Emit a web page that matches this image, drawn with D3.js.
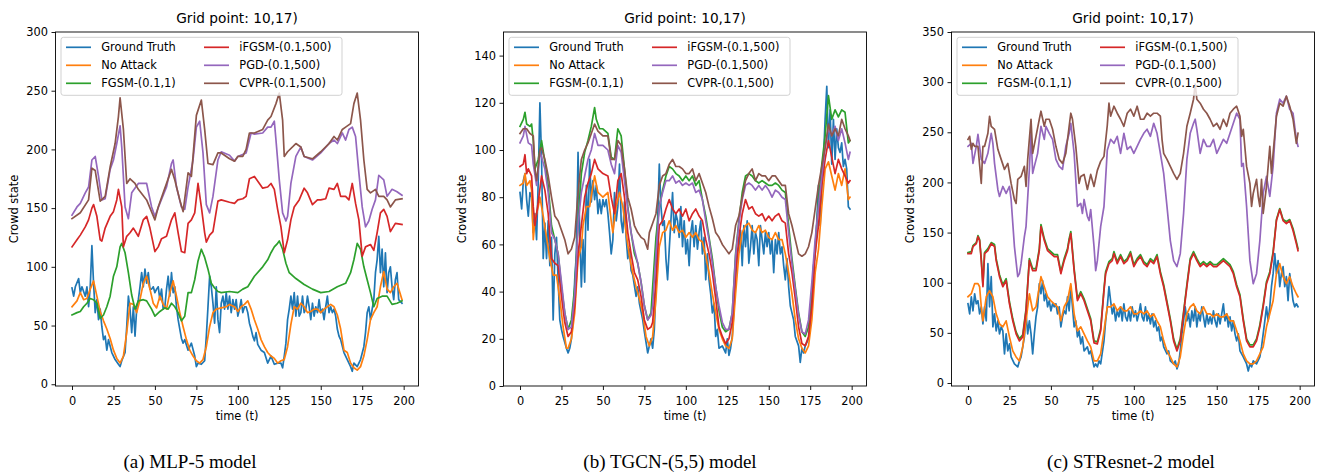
<!DOCTYPE html>
<html>
<head>
<meta charset="utf-8">
<script src="https://cdn.jsdelivr.net/npm/d3@7"></script>
<style>
  html, body { margin: 0; padding: 0; background: #ffffff; }
  svg { display: block; }
</style>
</head>
<body>
<script>
// ---------------- DATA ----------------
const seriesNames = ["Ground Truth", "No Attack", "FGSM-(0.1,1)", "iFGSM-(0.1,500)", "PGD-(0.1,500)", "CVPR-(0.1,500)"];
const seriesColors = ["#1f77b4", "#ff7f0e", "#2ca02c", "#d62728", "#9467bd", "#8c564b"];
const xTickValues = [0, 25, 50, 75, 100, 125, 150, 175, 200];
const yTicksMLP = [0, 50, 100, 150, 200, 250, 300];
const yTicksTGCN = [0, 20, 40, 60, 80, 100, 120, 140];
const yTicksSTR = [0, 50, 100, 150, 200, 250, 300, 350];
const panelTitle = "Grid point: 10,17)";
const captions = ["(a) MLP-5 model", "(b) TGCN-(5,5) model", "(c) STResnet-2 model"];

// (a) MLP-5 : [time, crowd state]
const mlpGroundTruth = [[0,82],[1,75],[2,83],[4,90],[5,78],[6,83],[8,75],[9,83],[10,66],[11,83],[12,118],[13,86],[14,61],[15,72],[16,55],[17,64],[18,49],[19,38],[20,41],[21,29],[22,38],[24,27],[26,21],[28,17],[29,15],[30,20],[32,27],[33,49],[34,75],[35,64],[36,44],[37,66],[38,41],[39,64],[40,72],[41,83],[42,95],[43,83],[44,98],[45,86],[46,95],[47,81],[48,81],[49,83],[50,78],[51,81],[52,83],[53,72],[54,81],[55,64],[56,66],[57,81],[58,92],[59,75],[60,95],[61,78],[62,83],[63,66],[64,55],[65,47],[66,39],[67,35],[68,38],[70,29],[72,35],[74,24],[75,15],[76,18],[78,17],[80,20],[81,41],[82,66],[83,92],[84,83],[85,69],[86,52],[87,83],[88,55],[89,44],[90,69],[91,75],[92,64],[93,78],[94,64],[95,75],[96,61],[97,72],[98,64],[99,72],[100,58],[101,64],[102,72],[103,61],[104,66],[105,66],[106,61],[107,52],[108,47],[109,41],[110,37],[111,44],[112,34],[114,29],[116,27],[118,18],[120,24],[122,17],[124,18],[126,18],[127,14],[128,24],[129,35],[130,55],[131,64],[132,75],[133,64],[134,78],[135,58],[136,75],[137,58],[138,61],[139,75],[140,61],[141,64],[142,75],[143,66],[144,55],[145,69],[146,58],[147,66],[148,61],[149,72],[150,61],[151,64],[152,55],[153,66],[154,75],[155,61],[156,66],[157,61],[158,64],[159,58],[160,47],[161,41],[162,38],[164,27],[166,21],[168,15],[169,11],[170,18],[172,15],[174,21],[176,32],[177,44],[178,61],[179,66],[180,55],[181,64],[182,72],[183,95],[184,106],[185,126],[186,95],[187,115],[188,83],[189,112],[190,78],[191,95],[192,100],[193,83],[194,72],[195,89],[196,95],[197,72],[199,69]];
const mlpNoAttack = [[0,66],[3,71],[5,78],[7,72],[9,73],[11,81],[13,88],[15,75],[17,62],[19,54],[21,47],[23,39],[25,29],[27,22],[29,18],[31,24],[33,44],[35,69],[37,68],[39,61],[41,72],[43,86],[45,92],[47,81],[49,69],[51,65],[53,75],[55,68],[57,64],[59,78],[61,88],[63,75],[65,61],[67,49],[69,38],[71,29],[73,24],[75,20],[77,18],[79,21],[81,32],[83,49],[85,61],[87,64],[90,65],[93,66],[95,68],[98,66],[100,62],[102,66],[104,68],[106,71],[108,64],[110,55],[112,47],[114,38],[116,32],[118,27],[120,24],[122,22],[124,18],[126,20],[128,21],[130,32],[132,51],[134,66],[136,64],[138,69],[140,66],[142,61],[144,62],[146,64],[148,64],[150,61],[152,64],[154,66],[156,68],[158,66],[160,59],[162,47],[164,29],[166,27],[168,18],[170,14],[172,12],[174,15],[176,24],[178,38],[180,55],[182,61],[184,66],[186,83],[188,96],[190,81],[192,78],[194,83],[196,86],[199,72]];
const mlpFGSM = [[0,59],[3,61],[5,62],[7,66],[9,69],[11,73],[13,72],[15,69],[17,56],[19,59],[21,66],[23,75],[25,92],[27,100],[29,117],[30,120],[32,112],[34,95],[36,76],[38,64],[40,71],[43,72],[45,71],[48,64],[50,58],[53,62],[56,65],[58,64],[60,69],[62,66],[64,61],[66,54],[68,58],[70,78],[72,78],[74,89],[76,105],[78,115],[80,108],[82,98],[84,86],[86,82],[88,79],[90,78],[95,79],[100,78],[103,81],[106,83],[110,92],[115,100],[118,106],[120,112],[122,117],[124,120],[125,122],[127,115],[129,103],[131,95],[135,90],[140,85],[145,81],[150,78],[155,79],[160,83],[165,86],[168,95],[170,106],[172,120],[174,115],[176,100],[178,89],[180,78],[182,66],[184,73],[187,75],[190,75],[193,68],[196,69],[199,71]];
const mlpIFGSM = [[0,117],[3,123],[5,127],[8,134],[10,140],[12,150],[13,153],[15,143],[17,123],[18,122],[20,133],[23,143],[25,147],[27,157],[28,166],[30,151],[31,117],[33,126],[35,129],[37,133],[40,126],[43,140],[45,143],[47,133],[50,113],[52,117],[54,124],[57,126],[60,140],[62,146],[64,129],[66,113],[68,112],[70,137],[72,140],[74,146],[76,171],[78,151],[80,129],[81,121],[83,127],[85,130],[88,156],[90,157],[95,155],[98,154],[100,157],[103,158],[105,160],[107,175],[110,177],[113,171],[115,167],[118,168],[120,171],[122,166],[124,149],[126,134],[128,112],[130,123],[132,140],[134,151],[137,157],[140,167],[142,163],[145,153],[148,157],[150,157],[153,158],[155,167],[158,166],[160,171],[162,160],[165,160],[167,157],[169,171],[171,154],[173,140],[175,109],[177,117],[180,119],[182,114],[184,129],[186,146],[188,149],[190,143],[192,130],[195,137],[199,136]];
const mlpPGD = [[0,144],[3,151],[5,154],[8,163],[10,168],[12,191],[14,194],[16,177],[18,157],[20,158],[23,183],[25,191],[27,205],[29,220],[30,202],[32,151],[34,141],[36,163],[40,171],[45,171],[48,151],[50,143],[53,154],[57,168],[60,188],[61,191],[63,168],[66,151],[68,149],[70,168],[73,191],[75,219],[77,224],[79,197],[81,153],[83,146],[85,160],[88,191],[90,198],[95,195],[98,190],[100,194],[105,197],[108,214],[110,213],[115,214],[118,219],[120,219],[122,224],[123,208],[125,174],[127,146],[129,139],[130,143],[132,171],[135,194],[138,202],[140,194],[145,191],[150,197],[155,205],[158,208],[160,205],[163,214],[165,208],[167,217],[169,219],[171,211],[173,180],[175,151],[177,134],[179,139],[181,149],[183,157],[185,178],[188,174],[190,160],[193,166],[196,164],[199,161]];
const mlpCVPR = [[0,141],[5,146],[10,157],[12,184],[14,182],[17,156],[20,160],[23,185],[26,205],[28,228],[29,244],[31,217],[33,171],[35,175],[38,171],[40,166],[45,157],[50,140],[52,151],[55,163],[60,183],[62,174],[65,157],[67,147],[70,180],[72,177],[75,229],[78,242],[80,217],[82,188],[85,187],[88,197],[90,197],[95,192],[98,190],[100,194],[103,194],[105,200],[107,214],[110,214],[115,217],[118,225],[120,228],[123,239],[125,248],[127,225],[128,194],[130,198],[135,205],[138,202],[140,194],[145,192],[150,198],[155,205],[158,211],[160,208],[163,217],[165,219],[168,222],[170,239],[172,248],[174,225],[176,191],[178,166],[180,163],[183,166],[185,160],[188,160],[190,157],[192,151],[195,157],[199,158]];

// (b) TGCN-(5,5)
const tgcnGroundTruth = [[0,82],[1,75],[2,87],[3,90],[4,79],[5,72],[6,82],[7,80],[8,65],[9,73],[10,62],[11,87],[12,120],[13,96],[14,54],[15,69],[16,54],[17,70],[18,51],[19,63],[20,28],[21,56],[22,63],[23,45],[24,28],[25,24],[26,21],[28,16],[29,14],[30,16],[31,20],[32,28],[33,45],[34,56],[35,99],[36,65],[37,42],[38,62],[39,44],[40,85],[41,66],[42,96],[43,78],[44,87],[45,79],[46,85],[47,73],[48,79],[49,73],[50,79],[51,76],[52,79],[53,73],[54,65],[55,56],[56,62],[57,82],[58,70],[59,76],[60,94],[61,70],[62,65],[63,78],[64,63],[65,54],[66,58],[67,49],[68,47],[70,38],[71,42],[72,35],[74,28],[75,23],[77,14],[78,17],[79,20],[80,16],[81,24],[82,42],[83,70],[84,94],[85,76],[86,68],[87,70],[88,54],[89,45],[90,58],[91,70],[92,82],[93,65],[94,73],[95,70],[96,63],[97,76],[98,59],[99,70],[100,56],[101,62],[102,51],[103,65],[104,70],[105,59],[106,68],[107,58],[108,65],[109,70],[110,56],[111,63],[112,45],[113,56],[114,45],[115,39],[116,31],[117,35],[118,21],[119,24],[120,16],[122,17],[124,14],[125,20],[126,13],[127,16],[128,21],[129,32],[130,45],[131,56],[132,59],[133,66],[134,51],[135,68],[136,59],[137,70],[138,52],[139,59],[140,68],[141,56],[142,65],[143,62],[144,51],[145,68],[146,62],[147,56],[148,65],[149,59],[150,65],[151,56],[152,62],[153,48],[154,62],[155,56],[156,65],[157,56],[158,59],[159,51],[160,45],[161,54],[162,42],[163,34],[164,31],[165,28],[166,21],[168,17],[169,10],[170,16],[171,14],[172,17],[174,20],[176,34],[177,51],[178,56],[179,70],[180,85],[181,68],[182,85],[183,96],[184,113],[185,127],[186,101],[187,117],[188,94],[189,113],[190,96],[191,109],[192,101],[193,99],[194,103],[195,93],[196,96],[197,92],[198,76],[199,75]];
const tgcnNoAttack = [[0,85],[2,86],[3,90],[4,85],[6,87],[7,83],[8,62],[9,70],[11,76],[12,80],[14,72],[16,63],[18,54],[20,47],[22,47],[24,37],[26,25],[28,16],[29,16],[31,20],[33,31],[35,54],[37,59],[38,68],[40,76],[42,76],[44,85],[45,89],[47,82],[50,80],[53,82],[55,70],[56,65],[58,76],[60,82],[62,76],[64,65],[66,55],[68,48],[70,42],[72,37],[74,31],[76,21],[78,17],[80,21],[82,37],[84,59],[86,65],[88,66],[90,70],[92,66],[94,68],[96,65],[98,66],[100,63],[102,65],[104,63],[106,65],[108,62],[110,61],[112,55],[114,48],[116,39],[118,31],[120,24],[122,20],[124,17],[126,16],[128,20],[130,39],[132,56],[134,65],[136,68],[138,69],[140,66],[142,65],[144,68],[146,65],[148,66],[150,63],[152,62],[154,65],[156,62],[158,62],[160,56],[162,48],[164,39],[166,28],[168,20],[170,16],[172,14],[174,17],[176,28],[178,48],[180,58],[182,76],[184,92],[186,95],[188,89],[190,83],[192,90],[194,85],[196,92],[198,79],[199,80]];
const tgcnFGSM = [[0,110],[2,113],[3,116],[4,111],[6,110],[7,111],[8,104],[9,92],[11,96],[13,104],[15,95],[17,85],[19,68],[21,62],[23,56],[25,42],[27,31],[29,24],[31,28],[33,42],[35,68],[37,90],[39,99],[41,104],[43,110],[45,118],[46,113],[48,109],[50,109],[53,107],[55,97],[57,96],[59,109],[61,106],[63,92],[65,76],[67,65],[69,56],[71,52],[73,44],[75,34],[77,28],[79,31],[80,42],[82,63],[84,76],[86,83],[88,89],[90,93],[92,92],[94,90],[96,89],[98,87],[100,89],[102,87],[104,89],[106,85],[108,87],[110,79],[112,72],[114,63],[116,54],[118,42],[120,32],[122,25],[124,23],[126,24],[128,31],[130,56],[132,70],[134,82],[136,89],[138,90],[140,89],[142,87],[144,86],[146,87],[148,86],[150,85],[152,85],[154,86],[156,85],[158,83],[160,82],[162,68],[164,54],[166,42],[168,31],[170,23],[172,21],[174,25],[176,39],[178,59],[180,78],[182,94],[184,106],[186,123],[188,113],[190,117],[192,114],[194,117],[196,116],[198,103],[199,104]];
const tgcnIFGSM = [[0,93],[2,94],[3,98],[4,90],[5,92],[7,89],[8,76],[9,68],[11,78],[13,89],[15,83],[17,73],[19,54],[21,52],[23,51],[25,38],[27,27],[29,21],[31,23],[33,34],[35,56],[37,68],[39,80],[41,86],[43,90],[45,96],[47,92],[50,90],[53,89],[55,80],[57,73],[59,87],[61,90],[63,80],[65,65],[67,56],[69,48],[71,45],[73,38],[75,28],[77,24],[79,25],[80,27],[82,45],[84,68],[86,70],[88,75],[90,79],[92,75],[94,73],[96,75],[98,72],[100,75],[102,70],[104,73],[106,75],[108,72],[110,70],[112,62],[114,56],[116,48],[118,37],[120,25],[122,21],[124,18],[126,20],[128,27],[130,48],[132,63],[134,73],[136,79],[138,75],[140,76],[142,73],[144,72],[146,73],[148,70],[150,72],[152,70],[154,72],[156,73],[158,70],[160,69],[162,56],[164,48],[166,37],[168,25],[170,18],[172,17],[174,21],[176,34],[178,56],[180,68],[182,85],[184,96],[186,104],[188,97],[190,90],[192,96],[194,92],[196,89],[198,86],[199,87]];
const tgcnPGD = [[0,103],[2,106],[3,110],[5,103],[7,102],[8,94],[10,85],[12,99],[13,97],[15,92],[17,82],[19,65],[21,62],[23,56],[25,44],[27,31],[29,24],[31,25],[33,39],[35,68],[37,82],[39,89],[41,96],[43,100],[45,107],[47,102],[50,102],[53,100],[55,94],[57,90],[59,102],[61,99],[63,87],[65,75],[67,65],[69,58],[71,52],[73,44],[75,34],[77,28],[79,30],[80,34],[82,56],[84,76],[86,82],[88,87],[90,87],[92,89],[94,86],[96,87],[98,85],[100,86],[102,85],[104,86],[106,82],[108,83],[110,79],[112,70],[114,62],[116,52],[118,42],[120,34],[122,27],[124,24],[126,24],[128,31],[130,55],[132,69],[134,79],[136,85],[138,86],[140,85],[142,83],[144,85],[146,83],[148,85],[150,83],[152,80],[154,83],[156,82],[158,80],[160,79],[162,65],[164,52],[166,41],[168,30],[170,23],[172,22],[174,28],[176,44],[178,62],[180,76],[182,89],[184,101],[186,109],[188,106],[190,110],[192,104],[194,109],[196,103],[198,96],[199,99]];
const tgcnCVPR = [[0,107],[2,109],[4,109],[6,107],[8,106],[9,92],[10,87],[11,93],[12,100],[13,101],[15,96],[17,89],[19,80],[21,72],[23,70],[25,66],[27,62],[29,56],[31,58],[33,63],[35,82],[37,96],[39,100],[41,103],[43,107],[45,111],[47,108],[50,106],[53,106],[55,96],[57,96],[59,104],[61,102],[63,92],[65,80],[67,75],[69,68],[71,65],[73,63],[75,62],[77,58],[78,65],[80,69],[82,73],[84,85],[86,89],[88,90],[90,94],[92,96],[94,93],[96,93],[98,92],[100,90],[102,90],[104,92],[106,87],[108,90],[110,86],[112,82],[114,76],[116,71],[118,65],[120,63],[122,60],[124,58],[126,56],[128,58],[130,68],[132,72],[134,80],[136,87],[138,90],[140,92],[142,87],[144,90],[146,89],[148,89],[150,87],[152,89],[154,89],[156,87],[158,85],[160,85],[162,73],[164,68],[166,62],[168,56],[170,55],[172,56],[174,59],[176,65],[178,75],[180,85],[182,93],[184,101],[186,111],[188,106],[190,109],[192,106],[194,113],[196,109],[198,106],[199,104]];

// (c) STResnet-2
const strGroundTruth = [[0,79],[1,69],[2,86],[3,72],[4,89],[5,79],[6,82],[7,69],[8,76],[9,59],[10,76],[11,62],[12,119],[13,76],[14,106],[15,56],[16,69],[17,52],[18,62],[19,49],[20,56],[21,52],[22,29],[23,49],[24,32],[25,39],[26,26],[28,19],[30,16],[31,22],[32,26],[33,36],[34,46],[35,69],[36,49],[37,62],[38,49],[39,29],[40,49],[41,66],[42,76],[43,99],[44,89],[45,102],[46,82],[47,89],[48,76],[49,82],[50,72],[51,79],[52,76],[53,79],[54,69],[55,76],[56,56],[57,66],[58,72],[59,69],[60,86],[61,72],[62,96],[63,76],[64,56],[65,62],[66,46],[67,52],[68,39],[69,46],[70,32],[72,36],[73,29],[74,32],[76,16],[77,19],[78,16],[79,22],[80,19],[82,42],[83,62],[84,76],[85,96],[86,82],[87,69],[88,76],[89,62],[90,72],[91,66],[92,76],[93,62],[94,79],[95,66],[96,62],[97,72],[98,62],[99,76],[100,66],[101,72],[102,62],[103,69],[104,79],[105,66],[106,62],[107,76],[108,62],[109,69],[110,59],[111,69],[112,56],[113,62],[114,52],[115,56],[116,42],[117,46],[118,36],[120,29],[121,32],[122,22],[124,19],[125,22],[126,14],[127,19],[128,32],[129,49],[130,62],[131,76],[132,62],[133,69],[134,56],[135,72],[136,62],[137,76],[138,56],[139,69],[140,62],[141,76],[142,66],[143,56],[144,69],[145,59],[146,66],[147,59],[148,72],[149,62],[150,56],[151,69],[152,59],[153,69],[154,79],[155,62],[156,69],[157,56],[158,66],[159,52],[160,62],[161,49],[162,42],[163,49],[164,32],[166,26],[168,19],[169,12],[170,19],[171,16],[172,22],[174,19],[176,26],[177,36],[178,49],[179,62],[180,76],[181,62],[182,76],[183,96],[184,109],[185,129],[186,109],[187,122],[188,96],[189,109],[190,116],[191,96],[192,106],[193,82],[194,109],[195,96],[196,82],[197,76],[198,79],[199,76]];
const strNoAttack = [[0,86],[2,89],[4,99],[6,99],[7,96],[8,76],[9,62],[11,86],[13,92],[15,86],[17,69],[19,59],[21,56],[23,62],[25,46],[27,32],[29,26],[31,22],[33,36],[35,62],[37,89],[39,72],[41,76],[43,96],[44,106],[46,96],[48,86],[50,82],[52,79],[54,76],[56,62],[58,76],[60,82],[62,99],[64,69],[66,52],[68,56],[70,49],[72,42],[74,36],[76,22],[78,22],[80,29],[82,52],[84,76],[86,76],[88,79],[90,72],[92,76],[94,72],[96,72],[98,76],[100,69],[102,69],[104,72],[106,69],[108,72],[110,66],[112,69],[114,62],[116,56],[118,42],[120,32],[122,26],[124,19],[126,16],[128,26],[130,49],[132,69],[134,76],[136,79],[138,72],[140,69],[142,76],[144,69],[146,69],[148,66],[150,69],[152,66],[154,66],[156,69],[158,62],[160,62],[162,52],[164,42],[166,29],[168,22],[170,19],[172,19],[174,22],[176,29],[178,36],[180,56],[182,69],[184,82],[186,109],[188,119],[190,106],[192,99],[194,106],[196,96],[198,89],[199,86]];
const strFGSM = [[0,130],[2,131],[3,137],[5,140],[6,147],[7,143],[8,124],[9,98],[10,130],[12,134],[14,140],[16,138],[17,124],[19,108],[21,98],[23,104],[25,81],[27,64],[29,51],[31,44],[33,48],[35,74],[37,124],[39,114],[41,114],[43,134],[44,158],[46,144],[48,134],[50,131],[52,128],[54,128],[56,111],[58,124],[60,134],[61,144],[62,151],[64,114],[66,84],[68,91],[70,84],[72,74],[74,64],[76,42],[78,41],[80,54],[82,94],[83,111],[85,121],[87,124],[88,131],[90,121],[92,128],[94,121],[96,124],[98,131],[100,118],[102,124],[104,128],[106,121],[108,118],[110,124],[112,121],[114,128],[116,111],[118,98],[120,81],[122,64],[124,44],[126,34],[128,44],[130,71],[132,98],[134,124],[136,131],[138,124],[140,118],[142,121],[144,118],[146,121],[148,118],[150,118],[152,121],[154,124],[156,121],[158,118],[160,111],[162,98],[164,88],[166,64],[168,44],[170,38],[172,38],[174,44],[176,58],[178,78],[180,101],[182,111],[184,131],[186,163],[188,174],[190,163],[192,161],[194,163],[196,154],[198,141],[199,134]];
const strIFGSM = [[0,129],[2,129],[3,136],[5,139],[6,146],[7,142],[8,122],[9,96],[10,129],[12,132],[14,139],[16,136],[17,122],[19,106],[21,96],[23,102],[25,79],[27,62],[29,49],[31,42],[33,46],[35,72],[37,122],[39,112],[41,112],[43,132],[44,156],[46,142],[48,132],[50,129],[52,126],[54,126],[56,109],[58,122],[60,132],[61,142],[62,149],[64,112],[66,82],[68,89],[70,82],[72,72],[74,62],[76,40],[78,39],[80,52],[82,92],[83,109],[85,119],[87,122],[88,129],[90,119],[92,126],[94,119],[96,122],[98,129],[100,116],[102,122],[104,126],[106,119],[108,116],[110,122],[112,119],[114,126],[116,109],[118,96],[120,79],[122,62],[124,42],[126,32],[128,42],[130,69],[132,96],[134,122],[136,129],[138,122],[140,116],[142,119],[144,116],[146,119],[148,116],[150,116],[152,119],[154,122],[156,119],[158,116],[160,109],[162,96],[164,86],[166,62],[168,42],[170,36],[172,36],[174,42],[176,56],[178,76],[180,99],[182,109],[184,129],[186,162],[188,173],[190,162],[192,159],[194,162],[196,152],[198,139],[199,132]];
const strPGD = [[0,236],[2,239],[3,219],[5,236],[6,248],[8,223],[10,219],[12,229],[14,249],[15,239],[16,219],[18,193],[19,186],[21,196],[23,189],[25,196],[26,183],[28,136],[30,106],[31,109],[32,119],[34,146],[35,156],[37,213],[38,249],[39,209],[40,216],[42,229],[43,243],[44,256],[46,243],[47,256],[49,249],[51,243],[53,223],[55,216],[57,213],[59,236],[61,249],[62,259],[64,229],[66,176],[68,179],[69,169],[70,183],[72,166],[73,162],[74,173],[76,136],[77,112],[78,122],[80,156],[82,176],[84,232],[86,243],[88,239],[90,246],[92,229],[94,249],[96,233],[98,236],[100,229],[102,236],[104,243],[106,249],[108,253],[110,246],[112,259],[114,249],[116,229],[118,209],[120,176],[122,142],[124,122],[126,116],[128,129],[130,169],[131,196],[132,223],[134,249],[136,259],[137,263],[138,253],[140,229],[142,243],[144,236],[146,236],[148,243],[150,229],[152,236],[154,243],[156,239],[158,249],[160,259],[162,269],[164,263],[165,216],[166,219],[168,176],[170,122],[172,99],[174,109],[176,142],[178,189],[180,206],[182,186],[184,216],[186,269],[188,283],[190,279],[192,286],[194,273],[196,269],[198,243],[199,236]];
const strCVPR = [[0,243],[1,246],[2,233],[3,239],[4,236],[6,236],[8,199],[9,236],[10,236],[12,249],[13,266],[14,256],[16,253],[18,233],[20,223],[22,213],[24,219],[26,199],[28,183],[29,179],[30,203],[32,206],[34,216],[35,196],[36,223],[38,263],[39,229],[41,246],[43,263],[44,271],[46,256],[47,263],[49,263],[51,253],[53,236],[55,223],[57,219],[59,229],[61,256],[62,269],[63,263],[65,236],[67,199],[68,206],[70,208],[72,193],[74,208],[76,196],[78,212],[80,221],[82,226],[84,257],[85,279],[86,266],[88,276],[90,269],[92,263],[94,256],[96,269],[98,273],[100,266],[102,276],[104,263],[106,263],[108,269],[110,266],[112,269],[114,269],[116,266],[117,243],[118,229],[120,223],[122,216],[124,209],[126,203],[128,209],[130,229],[132,256],[134,269],[136,283],[137,298],[138,283],[140,279],[142,273],[144,269],[146,263],[148,256],[150,259],[152,253],[154,263],[156,256],[158,269],[160,273],[162,276],[164,266],[165,246],[166,253],[168,216],[170,199],[171,176],[172,189],[174,203],[175,186],[176,176],[177,203],[178,169],[180,196],[182,236],[183,209],[184,229],[186,266],[188,279],[190,276],[192,286],[194,276],[196,263],[198,239],[199,249]];

// ---------------- LAYOUT ----------------
const W = 1317, H = 476;
const plotTop = 32, plotBottom = 386, plotWidth = 363;
const tickFont = "11.4px";
const fontFamily = "'DejaVu Sans', sans-serif";

const panels = [
  { left: 55.5,  yDomain: [-1.5, 300], yTicks: yTicksMLP,  series: [mlpGroundTruth, mlpNoAttack, mlpFGSM, mlpIFGSM, mlpPGD, mlpCVPR], caption: captions[0], capX: 190 },
  { left: 503.5, yDomain: [0, 150],    yTicks: yTicksTGCN, series: [tgcnGroundTruth, tgcnNoAttack, tgcnFGSM, tgcnIFGSM, tgcnPGD, tgcnCVPR], caption: captions[1], capX: 670 },
  { left: 951.5, yDomain: [-3, 350],   yTicks: yTicksSTR,  series: [strGroundTruth, strNoAttack, strFGSM, strIFGSM, strPGD, strCVPR], caption: captions[2], capX: 1131 }
];

const svg = d3.select("body").append("svg")
  .attr("width", W).attr("height", H)
  .attr("viewBox", `0 0 ${W} ${H}`);
svg.append("rect").attr("width", W).attr("height", H).attr("fill", "#ffffff");

panels.forEach((p, pi) => {
  const x = d3.scaleLinear().domain([-9.95, 208.95]).range([p.left, p.left + plotWidth]);
  const y = d3.scaleLinear().domain(p.yDomain).range([plotBottom, plotTop]);
  const g = svg.append("g");

  const clipId = "clip" + pi;
  svg.append("clipPath").attr("id", clipId)
    .append("rect").attr("x", p.left).attr("y", plotTop)
    .attr("width", plotWidth).attr("height", plotBottom - plotTop);

  // lines
  const line = d3.line().x(d => x(d[0])).y(d => y(d[1]));
  const lg = g.append("g").attr("clip-path", `url(#${clipId})`);
  p.series.forEach((s, si) => {
    lg.append("path").datum(s)
      .attr("d", line)
      .attr("fill", "none")
      .attr("stroke", seriesColors[si])
      .attr("stroke-width", 1.7)
      .attr("stroke-linejoin", "round")
      .attr("stroke-linecap", "square");
  });

  // axes
  const xAxis = d3.axisBottom(x).tickValues(xTickValues).tickSize(4).tickSizeOuter(0).tickPadding(6.5);
  const yAxis = d3.axisLeft(y).tickValues(p.yTicks).tickSize(4).tickSizeOuter(0).tickPadding(3.5);
  const xg = g.append("g").attr("transform", `translate(0,${plotBottom})`).call(xAxis);
  const yg = g.append("g").attr("transform", `translate(${p.left},0)`).call(yAxis);
  [xg, yg].forEach(ax => {
    ax.select(".domain").remove();
    ax.selectAll(".tick line").attr("stroke", "#000").attr("stroke-width", 0.9);
    ax.selectAll(".tick text").attr("fill", "#000").style("font-size", tickFont).style("font-family", fontFamily);
  });

  // frame
  g.append("rect").attr("x", p.left).attr("y", plotTop)
    .attr("width", plotWidth).attr("height", plotBottom - plotTop)
    .attr("fill", "none").attr("stroke", "#000").attr("stroke-width", 0.9);

  // title
  g.append("text").attr("x", p.left + plotWidth / 2).attr("y", 23)
    .attr("text-anchor", "middle").style("font-size", "13.7px").style("font-family", fontFamily)
    .attr("fill", "#000").text(panelTitle);

  // axis labels
  g.append("text").attr("x", p.left + plotWidth / 2).attr("y", 420)
    .attr("text-anchor", "middle").style("font-size", tickFont).style("font-family", fontFamily)
    .attr("fill", "#000").text("time (t)");
  g.append("text")
    .attr("transform", `translate(${p.left - 38},${(plotTop + plotBottom) / 2}) rotate(-90)`)
    .attr("text-anchor", "middle").style("font-size", tickFont).style("font-family", fontFamily)
    .attr("fill", "#000").text("Crowd state");

  // legend
  const lx = p.left + 5.5, ly = 37.3;
  const leg = g.append("g");
  leg.append("rect").attr("x", lx).attr("y", ly).attr("width", 281).attr("height", 58)
    .attr("rx", 2.5).attr("fill", "#ffffff").attr("fill-opacity", 0.8)
    .attr("stroke", "#cccccc").attr("stroke-width", 0.9);
  seriesNames.forEach((name, si) => {
    const col = Math.floor(si / 3), row = si % 3;
    const hx = lx + 5 + col * 138;
    const cy = 47.3 + row * 18;
    leg.append("line").attr("x1", hx).attr("x2", hx + 25).attr("y1", cy).attr("y2", cy)
      .attr("stroke", seriesColors[si]).attr("stroke-width", 1.7);
    leg.append("text").attr("x", hx + 35.3).attr("y", cy + 4.1)
      .style("font-size", tickFont).style("font-family", fontFamily).attr("fill", "#000").text(name);
  });

  // caption
  svg.append("text").attr("x", p.capX).attr("y", 468)
    .attr("text-anchor", "middle").style("font-size", "19px")
    .style("font-family", "'Liberation Serif', 'Times New Roman', serif")
    .attr("fill", "#000").text(p.caption);
});
</script>
</body>
</html>
